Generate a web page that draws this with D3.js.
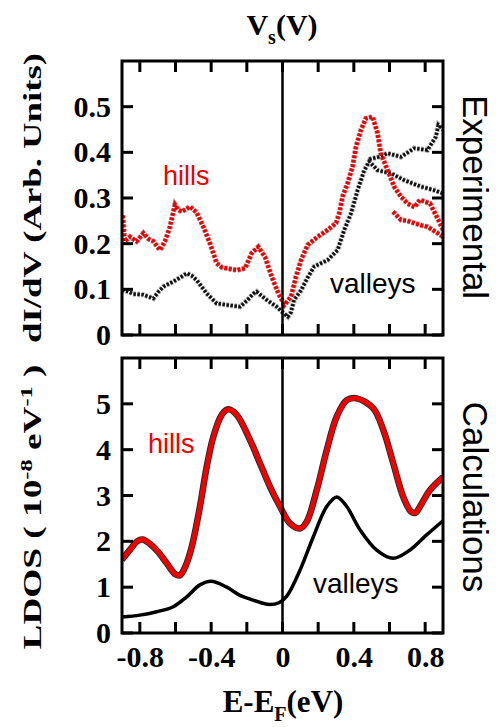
<!DOCTYPE html>
<html>
<head>
<meta charset="utf-8">
<script src="https://cdn.jsdelivr.net/npm/d3@7"></script>
<style>
  body { margin: 0; background: #fff; }
  svg { display: block; }
</style>
</head>
<body>
<svg id="chart"></svg>
<script>
// ------------------------------------------------------------
// Two stacked panels: measured dI/dV (dots) and calculated LDOS
// for "hills" (red) and "valleys" (black) vs E-EF.
// ------------------------------------------------------------

const width = 496;
const height = 727;

// Energy ticks shared by both panels.
const xTicks = [-0.8, -0.6, -0.4, -0.2, 0, 0.2, 0.4, 0.6, 0.8];
const xLabelTicks = [-0.8, -0.4, 0, 0.4, 0.8];
const expTicks = [0, 0.1, 0.2, 0.3, 0.4, 0.5];
const calcTicks = [0, 1, 2, 3, 4, 5];

// Experimental dI/dV, hills (red) - [E, dI/dV]
const expHills = [
  [-0.895, 0.262], [-0.885, 0.205], [-0.855, 0.215], [-0.818, 0.205], [-0.78, 0.223],
  [-0.75, 0.21], [-0.724, 0.205], [-0.687, 0.186], [-0.659, 0.205], [-0.631, 0.237],
  [-0.603, 0.285], [-0.585, 0.274], [-0.565, 0.27], [-0.519, 0.281], [-0.481, 0.268],
  [-0.444, 0.237], [-0.407, 0.201], [-0.369, 0.157], [-0.34, 0.148], [-0.313, 0.146],
  [-0.257, 0.142], [-0.21, 0.146], [-0.173, 0.179], [-0.136, 0.193], [-0.098, 0.171],
  [-0.061, 0.128], [-0.023, 0.091], [0.011, 0.066], [0.048, 0.084], [0.076, 0.128],
  [0.104, 0.164], [0.141, 0.197], [0.197, 0.215], [0.253, 0.23], [0.3, 0.245],
  [0.318, 0.266], [0.337, 0.303], [0.365, 0.332], [0.393, 0.369], [0.412, 0.412],
  [0.44, 0.449], [0.467, 0.474], [0.505, 0.478], [0.533, 0.442], [0.551, 0.398],
  [0.589, 0.361], [0.626, 0.325], [0.664, 0.303], [0.701, 0.288], [0.74, 0.28],
  [0.771, 0.296], [0.827, 0.288], [0.874, 0.252], [0.9, 0.23]
];
// Second (lower) sweep of the hills data at high bias.
const expHillsLow = [
  [0.62, 0.27], [0.664, 0.252], [0.7, 0.25], [0.739, 0.245], [0.78, 0.24],
  [0.813, 0.237], [0.87, 0.223], [0.9, 0.215]
];

// Experimental dI/dV, valleys (black)
const expValleys = [
  [-0.9, 0.098], [-0.865, 0.095], [-0.837, 0.09], [-0.78, 0.088], [-0.724, 0.08],
  [-0.695, 0.095], [-0.668, 0.106], [-0.612, 0.117], [-0.565, 0.128], [-0.537, 0.135],
  [-0.509, 0.13], [-0.481, 0.12], [-0.425, 0.091], [-0.369, 0.069], [-0.313, 0.066],
  [-0.238, 0.062], [-0.2, 0.075], [-0.165, 0.09], [-0.145, 0.095], [-0.115, 0.085],
  [-0.089, 0.077], [-0.033, 0.062], [0.014, 0.045], [0.03, 0.04], [0.048, 0.05],
  [0.065, 0.077], [0.104, 0.098], [0.14, 0.125], [0.178, 0.15], [0.253, 0.164],
  [0.309, 0.186], [0.346, 0.23], [0.384, 0.266], [0.421, 0.317], [0.458, 0.36],
  [0.486, 0.38], [0.533, 0.361], [0.608, 0.354], [0.683, 0.339], [0.776, 0.325],
  [0.851, 0.317], [0.9, 0.31]
];
const expValleysHigh = [
  [0.486, 0.385], [0.54, 0.39], [0.589, 0.398], [0.664, 0.39], [0.739, 0.409],
  [0.813, 0.405], [0.86, 0.434], [0.874, 0.46], [0.9, 0.45]
];

// Calculated LDOS (10^-8 eV^-1)
const calcHills = [
  [-0.9, 1.6], [-0.855, 1.82], [-0.815, 2.0], [-0.785, 2.04], [-0.745, 1.95],
  [-0.7, 1.78], [-0.649, 1.52], [-0.6, 1.28], [-0.575, 1.26], [-0.545, 1.45],
  [-0.509, 1.88], [-0.463, 2.76], [-0.425, 3.63], [-0.388, 4.28], [-0.341, 4.76],
  [-0.304, 4.88], [-0.257, 4.76], [-0.182, 4.21], [-0.126, 3.7], [-0.07, 3.19],
  [-0.014, 2.76], [0.042, 2.39], [0.098, 2.28], [0.136, 2.43], [0.192, 3.12],
  [0.248, 3.99], [0.304, 4.72], [0.36, 5.08], [0.416, 5.12], [0.509, 4.9],
  [0.565, 4.43], [0.621, 3.7], [0.677, 2.97], [0.72, 2.65], [0.745, 2.62],
  [0.771, 2.76], [0.827, 3.12], [0.9, 3.4]
];
const calcValleys = [
  [-0.9, 0.35], [-0.8, 0.39], [-0.705, 0.465], [-0.612, 0.574], [-0.537, 0.79],
  [-0.463, 1.05], [-0.4, 1.13], [-0.313, 1.0], [-0.238, 0.82], [-0.182, 0.74],
  [-0.12, 0.66], [-0.07, 0.62], [-0.02, 0.66], [0.023, 0.8], [0.098, 1.37],
  [0.173, 2.1], [0.248, 2.76], [0.304, 2.97], [0.36, 2.76], [0.435, 2.25],
  [0.528, 1.81], [0.621, 1.63], [0.715, 1.81], [0.808, 2.14], [0.9, 2.45]
];

const serif = "'Liberation Serif', 'Times New Roman', serif";
const sans = "'Liberation Sans', Arial, sans-serif";
const red = "#f20000";
const tickLen = 11;
const tickW = 3;

const svg = d3.select("#chart")
  .attr("width", width)
  .attr("height", height);

// Shared energy scale.
const x = d3.scaleLinear().domain([-0.9, 0.9]).range([122, 443]);

// One y scale per panel.
const yExp = d3.scaleLinear().domain([0, 0.6]).range([335, 61]);
const yCalc = d3.scaleLinear().domain([0, 6]).range([633, 358]);

const defs = svg.append("defs");
const panels = [
  { y: yExp, ticks: expTicks, fmt: d => d === 0 ? "0" : d.toFixed(1), xLabels: false, clip: "clipExp" },
  { y: yCalc, ticks: calcTicks, fmt: d => String(d), xLabels: true, clip: "clipCalc" }
];

// Clip rectangles and tick labels.
panels.forEach(p => {
  const [x0, x1] = x.range();
  const [yb, yt] = p.y.range();
  defs.append("clipPath").attr("id", p.clip)
    .append("rect")
    .attr("x", x0).attr("y", yt)
    .attr("width", x1 - x0).attr("height", yb - yt);

  const g = svg.append("g");
  g.append("g")
    .attr("class", "lab")
    .attr("transform", `translate(${x0 - 1},0)`)
    .call(d3.axisLeft(p.y).tickValues(p.ticks).tickSize(0).tickPadding(10).tickFormat(p.fmt));
  if (p.xLabels) {
    g.append("g")
      .attr("class", "lab")
      .attr("transform", `translate(0,${yb + 1})`)
      .call(d3.axisBottom(x).tickValues(xLabelTicks).tickSize(0).tickPadding(12)
        .tickFormat(d => d === 0 ? "0" : d.toFixed(1)));
  }
  g.selectAll(".domain").remove();
  g.selectAll(".tick line").remove();
  g.selectAll(".tick text")
    .attr("fill", "#000")
    .style("font-family", serif)
    .style("font-weight", "bold")
    .style("font-size", "30px");
});

// ---------------- Experimental (dotted traces) ----------------
const lineExp = d3.line()
  .x(d => x(d[0]))
  .y(d => yExp(d[1]))
  .curve(d3.curveLinear);

const expLayer = svg.append("g").attr("clip-path", "url(#clipExp)");

[expValleys, expValleysHigh].forEach(s => {
  expLayer.append("path")
    .datum(s)
    .attr("d", lineExp)
    .attr("fill", "none")
    .attr("stroke", "#555")
    .attr("stroke-width", 5.5)
    .attr("stroke-dasharray", "2.5 1.5")
    .attr("opacity", 0.45);
  expLayer.append("path")
    .datum(s)
    .attr("d", lineExp)
    .attr("fill", "none")
    .attr("stroke", "#111")
    .attr("stroke-width", 3.5)
    .attr("stroke-dasharray", "2.5 1.5");
});

[expHills, expHillsLow].forEach(s => {
  expLayer.append("path")
    .datum(s)
    .attr("d", lineExp)
    .attr("fill", "none")
    .attr("stroke", "#400")
    .attr("stroke-width", 5.5)
    .attr("stroke-dasharray", "3 1.5")
    .attr("opacity", 0.4);
  expLayer.append("path")
    .datum(s)
    .attr("d", lineExp)
    .attr("fill", "none")
    .attr("stroke", red)
    .attr("stroke-width", 4)
    .attr("stroke-dasharray", "3 1.5");
});

// ---------------- Calculations (smooth curves) ----------------
const lineCalc = d3.line()
  .x(d => x(d[0]))
  .y(d => yCalc(d[1]))
  .curve(d3.curveCatmullRom.alpha(0.5));

const calcLayer = svg.append("g").attr("clip-path", "url(#clipCalc)");

calcLayer.append("path")
  .datum(calcValleys)
  .attr("d", lineCalc)
  .attr("fill", "none")
  .attr("stroke", "#000")
  .attr("stroke-width", 3.5);

calcLayer.append("path")
  .datum(calcHills)
  .attr("d", lineCalc)
  .attr("fill", "none")
  .attr("stroke", "#222")
  .attr("stroke-width", 6.5);

calcLayer.append("path")
  .datum(calcHills)
  .attr("d", lineCalc)
  .attr("fill", "none")
  .attr("stroke", red)
  .attr("stroke-width", 4.8);

// ---------------- Text ----------------
// Top axis title V_s(V)
const vsTitle = svg.append("text")
  .attr("x", 282).attr("y", 35)
  .attr("text-anchor", "middle")
  .style("font-family", serif).style("font-weight", "bold").style("font-size", "30px");
vsTitle.append("tspan").text("V");
vsTitle.append("tspan").attr("dy", 9).style("font-size", "20px").text("s");
vsTitle.append("tspan").attr("dy", -9).text("(V)");

// Bottom axis title E-E_F(eV)
const eTitle = svg.append("text")
  .attr("x", 283).attr("y", 712)
  .attr("text-anchor", "middle")
  .style("font-family", serif).style("font-weight", "bold").style("font-size", "31px");
eTitle.append("tspan").text("E-E");
eTitle.append("tspan").attr("dy", 9).style("font-size", "20px").text("F");
eTitle.append("tspan").attr("dy", -9).text("(eV)");

// Rotated labels; the y titles are stretched to the span they cover in the figure.
function rotatedLabel(cx, cy, angle, targetLen, build, family, size, weight) {
  const g = svg.append("g").attr("transform", `translate(${cx},${cy}) rotate(${angle})`);
  const t = g.append("text")
    .attr("text-anchor", "middle")
    .style("font-family", family)
    .style("font-weight", weight)
    .style("font-size", size + "px");
  build(t);
  if (targetLen) {
    const len = t.node().getComputedTextLength();
    t.attr("transform", `scale(${targetLen / len},1)`);
  }
  return t;
}

rotatedLabel(41, 198, -90, 290, t => {
  t.text("dI/dV (Arb. Units)");
}, serif, 26, "bold");

rotatedLabel(41, 507, -90, 285, t => {
  t.append("tspan").text("LDOS ( 10");
  t.append("tspan").attr("dy", -9).style("font-size", "17px").text("-8");
  t.append("tspan").attr("dy", 9).text(" eV");
  t.append("tspan").attr("dy", -9).style("font-size", "17px").text("-1");
  t.append("tspan").attr("dy", 9).text(" )");
}, serif, 26, "bold");

rotatedLabel(463, 197, 90, null, t => t.text("Experimental"), sans, 35, "normal");
rotatedLabel(463, 497, 90, null, t => t.text("Calculations"), sans, 35, "normal");

// Series annotations.
const notes = [
  { text: "hills", x: 163, y: 185, color: red, size: 27 },
  { text: "valleys", x: 330, y: 293, color: "#000", size: 28 },
  { text: "hills", x: 148, y: 453, color: red, size: 27 },
  { text: "valleys", x: 313, y: 593, color: "#000", size: 28 }
];
svg.selectAll(".note")
  .data(notes)
  .enter()
  .append("text")
  .attr("class", "note")
  .attr("x", d => d.x)
  .attr("y", d => d.y)
  .attr("fill", d => d.color)
  .style("font-family", sans)
  .style("font-size", d => d.size + "px")
  .text(d => d.text);

// ---------------- Frames, ticks, zero line (last, on top of everything) ----------------
panels.forEach(p => {
  const [x0, x1] = x.range();
  const [yb, yt] = p.y.range();
  const fg = svg.append("g");

  // Tick marks as small filled bars, placed with the scales.
  const bars = [];
  p.ticks.forEach(v => {
    const yy = p.y(v);
    bars.push({ x: x0, y: yy - tickW / 2, w: tickLen, h: tickW });
    bars.push({ x: x1 - tickLen, y: yy - tickW / 2, w: tickLen, h: tickW });
  });
  xTicks.forEach(v => {
    const xx = x(v);
    bars.push({ x: xx - tickW / 2, y: yt, w: tickW, h: tickLen });
    bars.push({ x: xx - tickW / 2, y: yb - tickLen, w: tickW, h: tickLen });
  });
  bars.forEach(b => {
    fg.append("rect")
      .attr("x", b.x).attr("y", b.y)
      .attr("width", b.w).attr("height", b.h)
      .attr("fill", "#000");
  });

  // Vertical line at the Fermi level.
  fg.append("rect")
    .attr("x", x(0) - 1.25).attr("y", yt)
    .attr("width", 2.5).attr("height", yb - yt)
    .attr("fill", "#000");

  // Frame.
  fg.append("rect")
    .attr("x", x0).attr("y", yt)
    .attr("width", x1 - x0).attr("height", yb - yt)
    .attr("fill", "none")
    .attr("stroke", "#000")
    .attr("stroke-width", 3);
});
</script>
</body>
</html>
